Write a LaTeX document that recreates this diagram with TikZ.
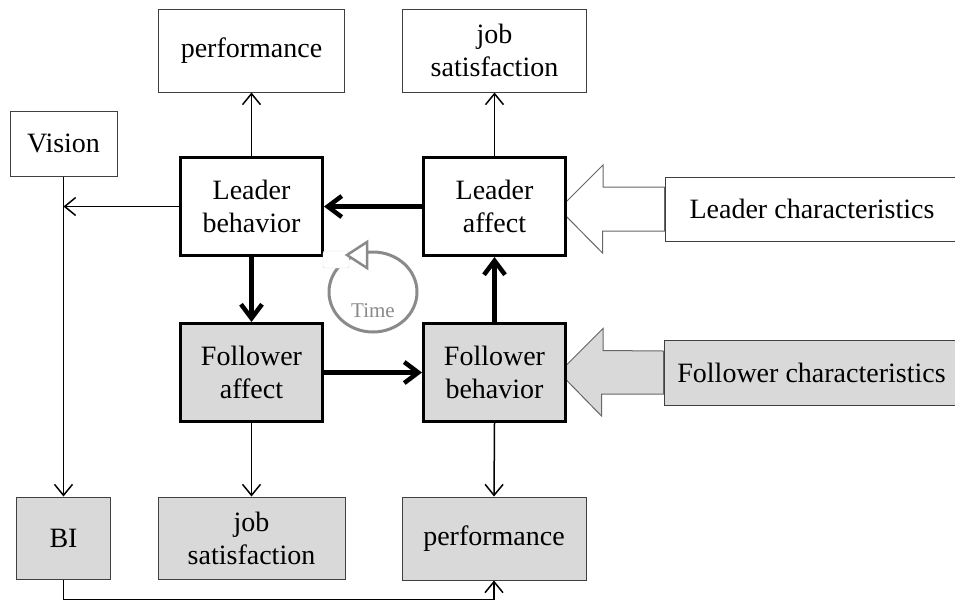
\documentclass[tikz,border=0pt]{standalone}
\usepackage{fontspec}
\setmainfont{Liberation Serif}
\usepackage{xcolor}
\usepackage{tikz}
\usetikzlibrary{arrows.meta,calc,backgrounds}

\definecolor{boxgray}{HTML}{D9D9D9}
\definecolor{timegray}{HTML}{8A8A8A}

\begin{document}
\begin{tikzpicture}[
  x=1pt, y=-1pt,
  font=\fontsize{28}{33}\selectfont,
  box/.style={
    draw=black!75,
    fill=#1,
    align=center,
    inner sep=2pt,
    line width=1pt
  },
  box/.default=white,
  keybox/.style={
    box=#1,
    draw=black,
    line width=3pt,
    minimum width=142pt,
    minimum height=98pt
  },
  keybox/.default=white,
  arr/.style={
    -{Straight Barb[length=11pt, width=18pt]},
    line width=1.5pt
  },
  thickarr/.style={
    -{Straight Barb[length=14pt, width=21pt]},
    line width=4.5pt
  },
  blockarr/.style={draw=black!60, line width=1pt, fill=#1},
  blockarr/.default=white,
  timecycle/.style={draw=timegray, line width=3pt}
]
  \useasboundingbox (0,0) rectangle (955,603);

  % top outcomes
  \node[box, minimum width=186pt, minimum height=83pt] (perftop) at (251.5,50.5) {performance};
  \node[box, minimum width=184pt, minimum height=83pt] (jstop) at (494.5,50.5) {job\\satisfaction};
  \node[box, minimum width=107pt, minimum height=65pt] (vision) at (63.5,143.5) {Vision};

  % the four core boxes
  \node[keybox] (lbeh) at (251.5,206.5) {Leader\\behavior};
  \node[keybox] (laff) at (494.5,206.5) {Leader\\affect};
  \node[keybox=boxgray] (faff) at (251.5,372.5) {Follower\\affect};
  \node[keybox=boxgray] (fbeh) at (494.5,372.5) {Follower\\behavior};

  % characteristics (run off the right edge)
  \node[box, minimum width=294pt, minimum height=64pt] (lchar) at (812,209) {Leader characteristics};
  \node[box=boxgray, minimum width=295pt, minimum height=65pt] (fchar) at (811.5,372.5) {Follower characteristics};

  % bottom outcomes
  \node[box=boxgray, minimum width=94pt, minimum height=82pt] (bi) at (63.5,538) {BI};
  \node[box=boxgray, minimum width=187pt, minimum height=82pt] (jsbot) at (251.5,538) {job\\satisfaction};
  \node[box=boxgray, minimum width=184pt, minimum height=83pt] (perfbot) at (494,538.5) {performance};

  % block arrows from the characteristics, kept behind the boxes
  \begin{scope}[on background layer]
    \draw[blockarr] ($(laff.east |- lchar.west)+(-8,0)$) -- ++(44,-44) -- ++(0,22)
      -- (lchar.west |- 0,187) -- (lchar.west |- 0,231) -- ++(-62,0) -- ++(0,22) -- cycle;
    \draw[blockarr=boxgray] ($(fbeh.east |- fchar.west)+(-8,0)$) -- ++(44,-44) -- ++(0,22)
      -- (fchar.west |- 0,351) -- (fchar.west |- 0,394) -- ++(-62,0) -- ++(0,22) -- cycle;
  \end{scope}

  % time cycle
  \draw[timecycle] (373,292) ellipse [x radius=44, y radius=40];
  \node[draw=black!15, fill=white, rounded corners=2pt, minimum width=26pt, minimum height=17pt,
    inner sep=0pt] (gap) at (336,259.5) {};
  \draw[timecycle, fill=white, line width=2.5pt, line join=miter] (347,255) -- (367,242) -- (367,268) -- cycle;
  \node[text=timegray, font=\fontsize{21}{24}\selectfont] (timelbl) at (373,311) {Time};

  % connectors
  \coordinate (vjoin) at (vision.south |- lbeh.west);
  \draw[arr] (lbeh.north) -- (perftop.south);
  \draw[arr] (laff.north) -- (jstop.south);
  \draw[arr] (lbeh.west) -- (vjoin);
  \draw[arr] (vision.south) -- (bi.north);
  \draw[thickarr] (laff.west) -- (lbeh.east);
  \draw[thickarr] (lbeh.south) -- (faff.north);
  \draw[thickarr] (faff.east) -- (fbeh.west);
  \draw[thickarr] (fbeh.north) -- (laff.south);
  \draw[arr] (faff.south) -- (jsbot.north);
  \draw[arr] (fbeh.south) -- (perfbot.north);
  \draw[arr] (bi.south) -- ++(0,20) -| (perfbot.south);
\end{tikzpicture}
\end{document}
